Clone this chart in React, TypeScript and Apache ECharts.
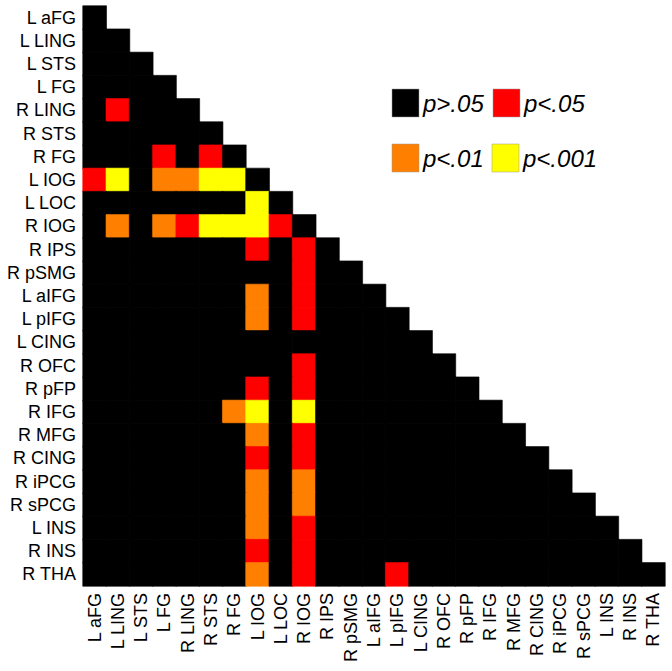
import React, { useEffect, useRef } from "react";
import * as echarts from "echarts";

const regions = [
  "L aFG", "L LING", "L STS", "L FG", "R LING", "R STS", "R FG", "L IOG", "L LOC", "R IOG",
  "R IPS", "R pSMG", "L aIFG", "L pIFG", "L CING", "R OFC", "R pFP", "R IFG", "R MFG", "R CING",
  "R iPCG", "R sPCG", "L INS", "R INS", "R THA",
];

// level: 1 = p<.05, 2 = p<.01, 3 = p<.001 (all other lower-triangle cells: p>.05)
const significantCells: [string, string, number][] = [
  ["R LING", "L LING", 1],
  ["R FG", "L FG", 1],
  ["R FG", "R STS", 1],
  ["L IOG", "L aFG", 1],
  ["L IOG", "L LING", 3],
  ["L IOG", "L FG", 2],
  ["L IOG", "R LING", 2],
  ["L IOG", "R STS", 3],
  ["L IOG", "R FG", 3],
  ["L LOC", "L IOG", 3],
  ["R IOG", "L LING", 2],
  ["R IOG", "L FG", 2],
  ["R IOG", "R LING", 1],
  ["R IOG", "R STS", 3],
  ["R IOG", "R FG", 3],
  ["R IOG", "L IOG", 3],
  ["R IOG", "L LOC", 1],
  ["R IPS", "L IOG", 1],
  ["R IPS", "R IOG", 1],
  ["R pSMG", "R IOG", 1],
  ["L aIFG", "L IOG", 2],
  ["L aIFG", "R IOG", 1],
  ["L pIFG", "L IOG", 2],
  ["L pIFG", "R IOG", 1],
  ["R OFC", "R IOG", 1],
  ["R pFP", "L IOG", 1],
  ["R pFP", "R IOG", 1],
  ["R IFG", "R FG", 2],
  ["R IFG", "L IOG", 3],
  ["R IFG", "R IOG", 3],
  ["R MFG", "L IOG", 2],
  ["R MFG", "R IOG", 1],
  ["R CING", "L IOG", 1],
  ["R CING", "R IOG", 1],
  ["R iPCG", "L IOG", 2],
  ["R iPCG", "R IOG", 2],
  ["R sPCG", "L IOG", 2],
  ["R sPCG", "R IOG", 2],
  ["L INS", "L IOG", 2],
  ["L INS", "R IOG", 1],
  ["R INS", "L IOG", 1],
  ["R INS", "R IOG", 1],
  ["R THA", "L IOG", 2],
  ["R THA", "R IOG", 1],
  ["R THA", "L pIFG", 1],
];

const levelLabels = ["p>.05", "p<.05", "p<.01", "p<.001"];
const levelColors = ["#000000", "#ff0000", "#ff8000", "#ffff00"];

const FONT = "'Liberation Sans', Arial, sans-serif";

export default function App() {
  const ref = useRef<HTMLDivElement>(null);
  useEffect(() => {
    document.body.style.margin = "0";
    if (!ref.current) return;
    const chart = echarts.init(ref.current, null, { renderer: "svg" });

    const lookup = new Map<string, number>();
    significantCells.forEach(([r, c, l]) => lookup.set(r + "|" + c, l));
    const data: any[] = [];
    regions.forEach((r, ri) => {
      for (let ci = 0; ci <= ri; ci++) {
        const lvl = lookup.get(r + "|" + regions[ci]) ?? 0;
        const col = levelColors[lvl];
        data.push({
          value: [ci, ri, lvl],
          itemStyle: { borderColor: col, borderWidth: 0.6 },
        });
      }
    });

    const legendPos = [
      { x: 392, y: 89 },
      { x: 493, y: 89 },
      { x: 392, y: 144 },
      { x: 492, y: 144 },
    ];
    const graphics: any[] = [];
    levelLabels.forEach((lab, i) => {
      const p = legendPos[i];
      graphics.push({
        type: "rect",
        shape: { x: p.x, y: p.y, width: 27, height: 28 },
        style: { fill: levelColors[i], stroke: "#999", lineWidth: 0.5 },
      });
      graphics.push({
        type: "text",
        x: p.x + 31,
        y: p.y + 14,
        style: {
          text: lab,
          fill: "#000",
          font: `italic 24px ${FONT}`,
          verticalAlign: "middle",
          align: "left",
        },
      });
    });

    chart.setOption({
      animation: false,
      backgroundColor: "#fff",
      grid: { left: 83, top: 6, width: 582, height: 580, containLabel: false },
      xAxis: {
        type: "category",
        data: regions,
        axisLine: { show: false },
        axisTick: { show: false },
        splitLine: { show: false },
        axisLabel: {
          rotate: 90,
          interval: 0,
          margin: 7,
          fontSize: 18,
          color: "#000",
          fontFamily: FONT,
        },
      },
      yAxis: {
        type: "category",
        data: regions,
        inverse: true,
        axisLine: { show: false },
        axisTick: { show: false },
        splitLine: { show: false },
        axisLabel: {
          interval: 0,
          margin: 7,
          fontSize: 18,
          color: "#000",
          fontFamily: FONT,
        },
      },
      visualMap: {
        type: "piecewise",
        show: false,
        dimension: 2,
        pieces: levelColors.map((c, i) => ({ value: i, color: c, label: levelLabels[i] })),
      },
      series: [
        {
          type: "heatmap",
          data,
          emphasis: { disabled: true },
        },
      ],
      graphic: graphics,
    });
    return () => chart.dispose();
  }, []);
  return <div ref={ref} style={{ width: 672, height: 671 }} />;
}
